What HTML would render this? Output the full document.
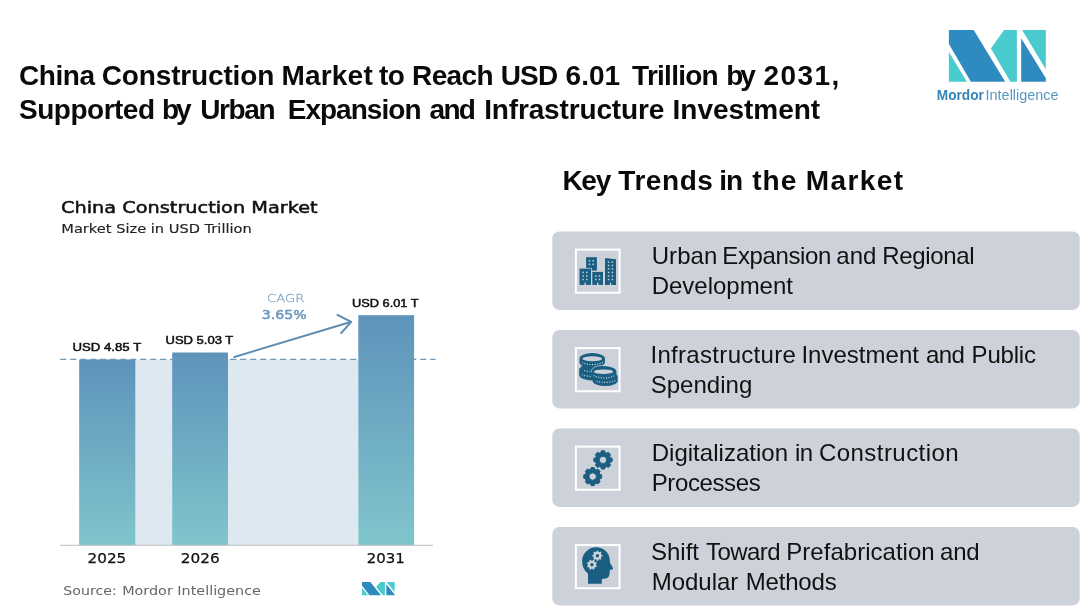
<!DOCTYPE html>
<html lang="en">
<head>
<meta charset="utf-8">
<title>China Construction Market</title>
<style>
html,body{margin:0;padding:0;background:#fff;}
body{width:1080px;height:612px;position:relative;overflow:hidden;font-family:"Liberation Sans",sans-serif;color:#000;}
.abs{position:absolute;}
h1{position:absolute;left:0;top:59px;margin:0;width:900px;height:68px;font-size:28px;line-height:34px;font-weight:bold;white-space:nowrap;color:#0a0a0a;}
h1 .ln{display:block;position:relative;height:34px;}
h1 .w{position:absolute;top:0;}
h2{position:absolute;left:552px;top:164px;width:400px;height:34px;margin:0;font-size:28px;line-height:34px;font-weight:bold;white-space:nowrap;color:#0a0a0a;}
h2 .w{position:absolute;top:0;}
.card{position:absolute;left:552px;width:528px;height:80px;}
.card svg.bg{position:absolute;left:0;top:0;}
.card p{position:absolute;left:0;width:528px;height:60px;margin:0;font-size:24px;line-height:30px;color:#111;white-space:nowrap;}
.card p .ln{display:block;position:relative;height:30px;}
.card p .w{position:absolute;top:0;}
svg text{font-family:"DejaVu Sans","Liberation Sans",sans-serif;}
svg .lib, svg .lib text{font-family:"Liberation Sans",sans-serif;}
</style>
</head>
<body>
<h1><span class="ln" id="t1"><span class="w" style="left:18.90px;letter-spacing:-0.377px">China </span><span class="w" style="left:101.80px;letter-spacing:-0.155px">Construction </span><span class="w" style="left:281.40px;letter-spacing:0.212px">Market </span><span class="w" style="left:378.90px;letter-spacing:-0.424px">to </span><span class="w" style="left:412.10px;letter-spacing:-0.634px">Reach </span><span class="w" style="left:500.70px;letter-spacing:-0.848px">USD </span><span class="w" style="left:565.50px;letter-spacing:0.059px">6.01 </span><span class="w" style="left:632.10px;letter-spacing:-0.739px">Trillion </span><span class="w" style="left:726.20px;letter-spacing:-3.000px">by </span><span class="w" style="left:763.50px;letter-spacing:1.403px">2031, </span></span><span class="ln" id="t2"><span class="w" style="left:19.10px;letter-spacing:-0.510px">Supported </span><span class="w" style="left:162.00px;letter-spacing:-3.000px">by </span><span class="w" style="left:200.30px;letter-spacing:-1.398px">Urban </span><span class="w" style="left:287.70px;letter-spacing:-0.973px">Expansion </span><span class="w" style="left:429.50px;letter-spacing:-1.688px">and </span><span class="w" style="left:484.20px;letter-spacing:-0.151px">Infrastructure </span><span class="w" style="left:672.60px;letter-spacing:-0.033px">Investment </span></span></h1>

<!-- Logo -->
<svg class="abs" id="logo" style="left:920px;top:20px" width="150" height="90" viewBox="920 20 150 90">
  <polygon points="948.9,30 973.7,30 1005.2,81.8 970.9,81.8 948.9,44" fill="#2e8bc0"/>
  <polygon points="948.9,52 966.9,81.8 948.9,81.8" fill="#48cacf"/>
  <polygon points="1004.1,30 1016.9,30 1016.9,81.8 1010.4,81.8 990.9,48.6" fill="#48cacf"/>
  <polygon points="1021.2,38.3 1045.8,78.3 1045.8,81.8 1021.2,81.8" fill="#2e8bc0"/>
  <polygon points="1022.1,30 1045.8,30 1045.8,69.2" fill="#48cacf"/>
  <text id="lg1" x="936.8" y="100.2" font-size="14" font-weight="bold" fill="#3585b8" class="lib" textLength="47" lengthAdjust="spacingAndGlyphs">Mordor</text>
  <text id="lg2" x="985.6" y="100.2" font-size="14" fill="#5798bf" class="lib" textLength="72.9" lengthAdjust="spacingAndGlyphs">Intelligence</text>
</svg>

<!-- Chart -->
<svg class="abs" id="chart" style="left:40px;top:180px" width="420" height="432" viewBox="40 180 420 432">
  <defs>
    <linearGradient id="bg" x1="0" y1="0" x2="0" y2="1">
      <stop offset="0" stop-color="#5e93bb"/>
      <stop offset="1" stop-color="#80c5cc"/>
    </linearGradient>
  </defs>
  <text x="61.0" y="213.4" font-size="16.2" fill="#111" stroke="#111" stroke-width="0.5" textLength="256.6" lengthAdjust="spacingAndGlyphs">China Construction Market</text>
  <text x="61.3" y="232.6" font-size="12.4" fill="#222" stroke="#222" stroke-width="0.15" textLength="190.5" lengthAdjust="spacingAndGlyphs">Market Size in USD Trillion</text>
  <rect x="79.2" y="359.5" width="279" height="185.5" fill="#dee8f1"/>
  <rect x="79.2" y="359.5" width="56.1" height="185.5" fill="url(#bg)"/>
  <rect x="172.2" y="352.5" width="55.8" height="192.5" fill="url(#bg)"/>
  <rect x="358.3" y="315.2" width="55.8" height="229.8" fill="url(#bg)"/>
  <line x1="60.2" y1="359.3" x2="435.5" y2="359.3" stroke="#6f99b8" stroke-width="1.3" stroke-dasharray="6 4"/>
  <line x1="60.3" y1="545.3" x2="433" y2="545.3" stroke="#bdbdbd" stroke-width="1"/>
  <g class="lib" font-size="11.4" fill="#111" stroke="#111" stroke-width="0.5">
    <text x="72.5" y="351.4" textLength="68.7" lengthAdjust="spacingAndGlyphs">USD 4.85 T</text>
    <text x="165.5" y="343.9" textLength="67.8" lengthAdjust="spacingAndGlyphs">USD 5.03 T</text>
    <text x="352" y="306.9" textLength="66.6" lengthAdjust="spacingAndGlyphs">USD 6.01 T</text>
  </g>
  <text x="267.0" y="302.4" font-size="10.8" fill="#8aabc6" stroke="#8aabc6" stroke-width="0.3" textLength="37.4" lengthAdjust="spacingAndGlyphs" style="font-weight:200">CAGR</text>
  <text x="261.8" y="319" font-size="12.2" fill="#6b97bd" stroke="#6b97bd" stroke-width="0.5" textLength="45" lengthAdjust="spacingAndGlyphs">3.65%</text>
  <g fill="none" stroke="#5c8db5" stroke-width="2" stroke-linecap="round" stroke-linejoin="round">
    <line x1="234.3" y1="357" x2="350.6" y2="322"/>
    <polyline points="337.4,314.8 351.2,321.9 341.2,333"/>
  </g>
  <g font-size="13.8" fill="#111" stroke="#111" stroke-width="0.25">
    <text x="87.5" y="563.4" textLength="38.8" lengthAdjust="spacingAndGlyphs">2025</text>
    <text x="180.8" y="563.4" textLength="38.9" lengthAdjust="spacingAndGlyphs">2026</text>
    <text x="366.7" y="563.4" textLength="38.1" lengthAdjust="spacingAndGlyphs">2031</text>
  </g>
  <text x="63.3" y="595.3" font-size="12.6" fill="#666" textLength="53.4" lengthAdjust="spacingAndGlyphs">Source:</text>
  <text x="122.2" y="595.3" font-size="12.6" fill="#666" textLength="138.7" lengthAdjust="spacingAndGlyphs">Mordor Intelligence</text>
  <g transform="translate(362,582) scale(0.337,0.257)">
    <g transform="translate(-948.9,-30)">
      <polygon points="948.9,30 973.7,30 1005.2,81.8 970.9,81.8 948.9,44" fill="#2e8bc0"/>
      <polygon points="948.9,52 966.9,81.8 948.9,81.8" fill="#48cacf"/>
      <polygon points="1004.1,30 1016.9,30 1016.9,81.8 1010.4,81.8 990.9,48.6" fill="#48cacf"/>
      <polygon points="1021.2,38.3 1045.8,78.3 1045.8,81.8 1021.2,81.8" fill="#2e8bc0"/>
      <polygon points="1022.1,30 1045.8,30 1045.8,69.2" fill="#48cacf"/>
    </g>
  </g>
</svg>

<h2 id="kt"><span class="w" style="left:10.40px;letter-spacing:-1.246px">Key </span><span class="w" style="left:66.30px;letter-spacing:0.553px">Trends </span><span class="w" style="left:167.30px;letter-spacing:-1.200px">in </span><span class="w" style="left:200.30px;letter-spacing:0.986px">the </span><span class="w" style="left:253.70px;letter-spacing:1.413px">Market </span></h2>

<div class="card" id="c1" style="top:231px"><svg class="bg" width="528" height="81" viewBox="0 0 528 81"><rect x="0.3" y="0.4" width="527.4" height="78.5" rx="7" fill="#cdd2da"/><rect x="23.9" y="18.60" width="43.7" height="43.15" fill="none" stroke="#fff" stroke-width="2"/><g transform="translate(23.1,17.6)"><g fill="#1a5f82"><rect x="11" y="8.6" width="10.8" height="13.4"/><rect x="3.7" y="19.3" width="12.9" height="17" fill="#cdd2da"/><rect x="4.4" y="20" width="11.5" height="16.3"/><rect x="16.6" y="22.6" width="11.3" height="13.7" fill="#cdd2da"/><rect x="17.2" y="23.3" width="10.7" height="13"/><polygon points="29.9,9.3 40.9,10.7 40.9,36.3 29.9,36.3"/></g><g fill="#c3d0db"><rect x="13.65" y="11.45" width="1.5" height="1.5"/><rect x="13.65" y="14.95" width="1.5" height="1.5"/><rect x="17.35" y="11.45" width="1.5" height="1.5"/><rect x="17.35" y="14.95" width="1.5" height="1.5"/><rect x="7.25" y="23.05" width="1.5" height="1.5"/><rect x="7.25" y="26.65" width="1.5" height="1.5"/><rect x="7.25" y="30.15" width="1.5" height="1.5"/><rect x="10.95" y="23.05" width="1.5" height="1.5"/><rect x="10.95" y="26.65" width="1.5" height="1.5"/><rect x="10.95" y="30.15" width="1.5" height="1.5"/><rect x="20.05" y="26.65" width="1.5" height="1.5"/><rect x="20.05" y="30.15" width="1.5" height="1.5"/><rect x="23.65" y="26.65" width="1.5" height="1.5"/><rect x="23.65" y="30.15" width="1.5" height="1.5"/><rect x="32.75" y="12.75" width="1.5" height="1.5"/><rect x="32.75" y="16.15" width="1.5" height="1.5"/><rect x="32.75" y="19.55" width="1.5" height="1.5"/><rect x="32.75" y="23.05" width="1.5" height="1.5"/><rect x="32.75" y="26.65" width="1.5" height="1.5"/><rect x="32.75" y="30.15" width="1.5" height="1.5"/><rect x="36.55" y="12.75" width="1.5" height="1.5"/><rect x="36.55" y="16.15" width="1.5" height="1.5"/><rect x="36.55" y="19.55" width="1.5" height="1.5"/><rect x="36.55" y="23.05" width="1.5" height="1.5"/><rect x="36.55" y="26.65" width="1.5" height="1.5"/><rect x="36.55" y="30.15" width="1.5" height="1.5"/><rect x="9.3" y="34" width="1.4" height="2.4"/><rect x="21.9" y="34" width="1.4" height="2.4"/><rect x="34.7" y="34" width="1.4" height="2.4"/></g></g></svg><p style="top:10.4px"><span class="ln" id="p1a"><span class="w" style="left:99.70px;letter-spacing:0.070px">Urban </span><span class="w" style="left:170.30px;letter-spacing:-0.379px">Expansion </span><span class="w" style="left:284.30px;letter-spacing:0.002px">and </span><span class="w" style="left:330.30px;letter-spacing:-0.343px">Regional </span></span><span class="ln" id="p1b"><span class="w" style="left:99.70px;letter-spacing:-0.014px">Development </span></span></p></div>
<div class="card" id="c2" style="top:329px"><svg class="bg" width="528" height="81" viewBox="0 0 528 81"><rect x="0.3" y="0.9" width="527.4" height="78.5" rx="7" fill="#cdd2da"/><rect x="23.9" y="19.10" width="43.7" height="43.15" fill="none" stroke="#fff" stroke-width="2"/><g transform="translate(22.8,18.2)"><g fill="#1a5f82"><path d="M4.40,22.2a12.9,5.4 0 0 1 25.8,0v5.6a12.9,5.4 0 0 1 -25.8,0z" /><path d="M4.65,11.4a12.75,5.6 0 0 1 25.5,0v3.6a12.75,5.6 0 0 1 -25.5,0z" /><path d="M17.70,29.2a12.6,5.4 0 0 1 25.2,0v4.3a12.6,5.4 0 0 1 -25.2,0z" /><path d="M17.20,24.4a12.2,5.6 0 0 1 24.4,0v2.6a12.2,5.6 0 0 1 -24.4,0z" /></g><path d="M16.6,25.2A12.8,6.2 0 0 1 38,19.6" fill="none" stroke="#cdd2da" stroke-width="0.7"/><polygon points="3.6,19.2 6.4,20.2 3.6,21.4" fill="#cdd2da"/><polygon points="43.4,26.2 41.2,27.5 43.6,28.6" fill="#cdd2da"/><ellipse cx="17.5" cy="11.5" rx="9.8" ry="2.5" fill="#cdd2da"/><ellipse cx="28.7" cy="24.5" rx="9.6" ry="2.3" fill="#cdd2da"/><g fill="none" stroke="#d3dde6" stroke-width="1.1" stroke-dasharray="1 1.5"><path d="M7.50,15.48A12.75,5.2 0 0 0 28.50,14.76"/><path d="M9.50,23.38A12.9,5.0 0 0 0 15.00,24.32"/><path d="M7.50,27.45A12.9,5.0 0 0 0 16.50,29.19"/><path d="M19.00,28.32A12.2,5.2 0 0 0 39.50,28.52"/><path d="M22.00,33.96A12.6,5.0 0 0 0 41.50,32.49"/></g></g></svg><p style="top:10.9px"><span class="ln" id="p2a"><span class="w" style="left:98.40px;letter-spacing:0.320px">Infrastructure </span><span class="w" style="left:249.40px;letter-spacing:0.020px">Investment </span><span class="w" style="left:374.00px;letter-spacing:-0.548px">and </span><span class="w" style="left:419.60px;letter-spacing:-0.193px">Public </span></span><span class="ln" id="p2b"><span class="w" style="left:98.70px;letter-spacing:0.017px">Spending </span></span></p></div>
<div class="card" id="c3" style="top:428px"><svg class="bg" width="528" height="81" viewBox="0 0 528 81"><rect x="0.3" y="0.4" width="527.4" height="78.5" rx="7" fill="#cdd2da"/><rect x="23.9" y="18.60" width="43.7" height="43.15" fill="none" stroke="#fff" stroke-width="2"/><g transform="translate(22.8,17.7)"><g fill="#1a5f82" fill-rule="evenodd" stroke="#1a5f82" stroke-width="1" stroke-linejoin="round"><path d="M26.11,6.79 L26.57,5.04 L29.83,5.04 L30.29,6.79 L31.96,7.48 L33.52,6.57 L35.83,8.88 L34.92,10.44 L35.61,12.11 L37.36,12.57 L37.36,15.83 L35.61,16.29 L34.92,17.96 L35.83,19.52 L33.52,21.83 L31.96,20.92 L30.29,21.61 L29.83,23.36 L26.57,23.36 L26.11,21.61 L24.44,20.92 L22.88,21.83 L20.57,19.52 L21.48,17.96 L20.79,16.29 L19.04,15.83 L19.04,12.57 L20.79,12.11 L21.48,10.44 L20.57,8.88 L22.88,6.57 L24.44,7.48ZM24.50,14.20a3.7,3.7 0 1,0 7.4,0a3.7,3.7 0 1,0 -7.4,0Z"/><path d="M15.84,23.54 L16.30,21.89 L19.50,21.89 L19.96,23.54 L21.61,24.22 L23.10,23.38 L25.37,25.65 L24.53,27.14 L25.21,28.79 L26.86,29.25 L26.86,32.45 L25.21,32.91 L24.53,34.56 L25.37,36.05 L23.10,38.32 L21.61,37.48 L19.96,38.16 L19.50,39.81 L16.30,39.81 L15.84,38.16 L14.19,37.48 L12.70,38.32 L10.43,36.05 L11.27,34.56 L10.59,32.91 L8.94,32.45 L8.94,29.25 L10.59,28.79 L11.27,27.14 L10.43,25.65 L12.70,23.38 L14.19,24.22ZM14.20,30.85a3.7,3.7 0 1,0 7.4,0a3.7,3.7 0 1,0 -7.4,0Z"/></g></g></svg><p style="top:10.4px"><span class="ln" id="p3a"><span class="w" style="left:99.70px;letter-spacing:0.022px">Digitalization </span><span class="w" style="left:243.00px;letter-spacing:-0.632px">in </span><span class="w" style="left:267.00px;letter-spacing:0.447px">Construction </span></span><span class="ln" id="p3b"><span class="w" style="left:99.70px;letter-spacing:-0.380px">Processes </span></span></p></div>
<div class="card" id="c4" style="top:526px"><svg class="bg" width="528" height="81" viewBox="0 0 528 81"><rect x="0.3" y="0.9" width="527.4" height="78.5" rx="7" fill="#cdd2da"/><rect x="23.9" y="19.10" width="43.7" height="43.15" fill="none" stroke="#fff" stroke-width="2"/><g transform="translate(22.8,18.0)"><path d="M21.2,3.3 C29,3.3 34.2,8.5 34.9,15 C35,17 35.2,18.6 35.6,19.6 L38.2,24 C38.5,24.9 38,25.5 37.3,25.6 L35,25.9 L34.9,28 C34.9,31.5 33.6,34.3 31,34.6 L27,34.9 L27,39.7 L13.2,39.7 L13.2,29.4 C9.4,26.6 7.3,22.3 7.3,17.4 C7.3,9.6 13.5,3.3 21.2,3.3Z" fill="#1a5f82"/><g fill="#cdd2da" fill-rule="evenodd"><path d="M21.64,7.82 L21.80,6.66 L23.40,6.66 L23.56,7.82 L24.66,8.27 L25.60,7.57 L26.73,8.70 L26.03,9.64 L26.48,10.74 L27.64,10.90 L27.64,12.50 L26.48,12.66 L26.03,13.76 L26.73,14.70 L25.60,15.83 L24.66,15.13 L23.56,15.58 L23.40,16.74 L21.80,16.74 L21.64,15.58 L20.54,15.13 L19.60,15.83 L18.47,14.70 L19.17,13.76 L18.72,12.66 L17.56,12.50 L17.56,10.90 L18.72,10.74 L19.17,9.64 L18.47,8.70 L19.60,7.57 L20.54,8.27ZM20.90,11.70a1.7,1.7 0 1,0 3.4,0a1.7,1.7 0 1,0 -3.4,0Z"/><path d="M17.69,16.74 L18.29,15.74 L19.76,16.35 L19.48,17.48 L20.32,18.32 L21.45,18.04 L22.06,19.51 L21.06,20.11 L21.06,21.29 L22.06,21.89 L21.45,23.36 L20.32,23.08 L19.48,23.92 L19.76,25.05 L18.29,25.66 L17.69,24.66 L16.51,24.66 L15.91,25.66 L14.44,25.05 L14.72,23.92 L13.88,23.08 L12.75,23.36 L12.14,21.89 L13.14,21.29 L13.14,20.11 L12.14,19.51 L12.75,18.04 L13.88,18.32 L14.72,17.48 L14.44,16.35 L15.91,15.74 L16.51,16.74ZM15.40,20.70a1.7,1.7 0 1,0 3.4,0a1.7,1.7 0 1,0 -3.4,0Z"/></g></g></svg><p style="top:10.9px"><span class="ln" id="p4a"><span class="w" style="left:99.00px;letter-spacing:-0.014px">Shift </span><span class="w" style="left:154.00px;letter-spacing:-0.544px">Toward </span><span class="w" style="left:234.30px;letter-spacing:0.021px">Prefabrication </span><span class="w" style="left:388.00px;letter-spacing:-0.198px">and </span></span><span class="ln" id="p4b"><span class="w" style="left:99.70px;letter-spacing:-0.019px">Modular </span><span class="w" style="left:193.70px;letter-spacing:-0.175px">Methods </span></span></p></div>
</body>
</html>
